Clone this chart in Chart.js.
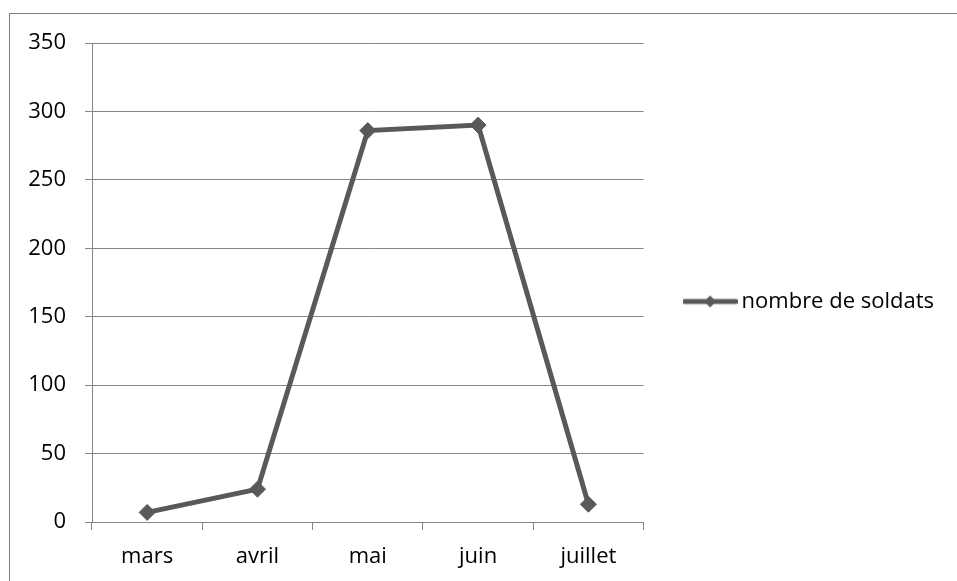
<!DOCTYPE html>
<html>
<head>
<meta charset="utf-8">
<script src="https://cdn.jsdelivr.net/npm/chart.js@4"></script>
<style>
  html, body { margin: 0; padding: 0; background: #fff; }
  #wrap { position: relative; width: 957px; height: 581px; overflow: hidden; }
  #frame { position: absolute; left: 9px; top: 13px; width: 1000px; height: 700px;
           border-left: 1px solid #7f7f7f; border-top: 1px solid #7f7f7f; }
  #chart { position: absolute; left: 0; top: 0; }
</style>
</head>
<body>
<div id="wrap">
  <div id="frame"></div>
  <canvas id="chart" width="957" height="581"></canvas>
</div>
<script>
const months = ['mars', 'avril', 'mai', 'juin', 'juillet'];
const soldiers = [7, 24, 286, 290, 13];
const yTicks = [0, 50, 100, 150, 200, 250, 300, 350];

const lineColor = '#595959';
const gridColor = '#858585';
const font = { family: '"Open Sans"', size: 22 };

// legend key: short line with a diamond in the middle
function legendKey() {
  const c = document.createElement('canvas');
  c.width = 55;
  c.height = 14;
  const g = c.getContext('2d');
  g.strokeStyle = lineColor;
  g.lineWidth = 5;
  g.lineCap = 'round';
  g.beginPath();
  g.moveTo(2, 7);
  g.lineTo(53, 7);
  g.stroke();
  g.fillStyle = lineColor;
  g.beginPath();
  g.moveTo(27.5, 1);
  g.lineTo(33.5, 7);
  g.lineTo(27.5, 13);
  g.lineTo(21.5, 7);
  g.closePath();
  g.fill();
  return c;
}

new Chart(document.getElementById('chart').getContext('2d'), {
  type: 'line',
  data: {
    labels: months,
    datasets: [{
      label: 'nombre de soldats',
      data: soldiers,
      borderColor: lineColor,
      backgroundColor: lineColor,
      borderWidth: 5,
      pointStyle: 'rectRot',
      pointRadius: 8,
      pointBorderWidth: 1,
      pointBackgroundColor: lineColor,
      pointBorderColor: lineColor,
      tension: 0
    }]
  },
  options: {
    responsive: false,
    animation: false,
    layout: { padding: { top: 22, bottom: 0, left: 0, right: 13 } },
    scales: {
      x: {
        offset: true,
        grid: { offset: true, drawOnChartArea: false, color: gridColor, tickLength: 8 },
        border: { color: gridColor },
        ticks: { color: '#000', font: font, padding: 14, maxRotation: 0 },
        afterFit: scale => { scale.height = 59; }
      },
      y: {
        min: 0,
        max: 350,
        afterBuildTicks: scale => { scale.ticks = yTicks.map(v => ({ value: v })); },
        grid: { color: gridColor, tickLength: 7 },
        border: { color: gridColor },
        ticks: { color: '#000', font: font, padding: 19 },
        afterFit: scale => { scale.width = 92; }
      }
    },
    plugins: {
      // empty title only reserves the space above the plot
      title: { display: true, text: '', padding: 0, font: { size: 21, lineHeight: 1 } },
      legend: {
        position: 'right',
        maxWidth: 400,
        labels: {
          color: '#000',
          font: font,
          usePointStyle: true,
          pointStyle: legendKey(),
          pointStyleWidth: 41,
          padding: 46
        }
      },
      tooltip: { enabled: false }
    }
  }
});
</script>
</body>
</html>
